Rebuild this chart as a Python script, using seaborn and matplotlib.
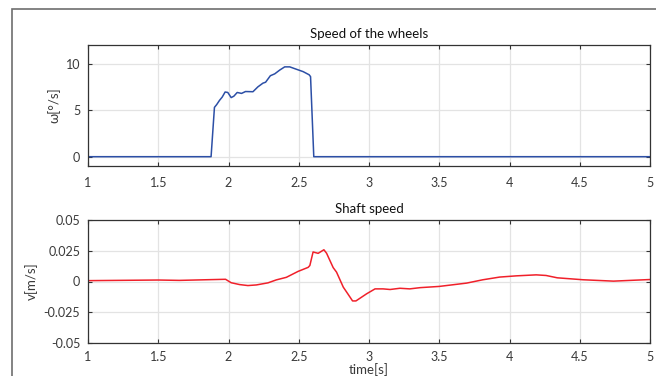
import matplotlib
matplotlib.use("Agg")
import matplotlib.pyplot as plt
import seaborn as sns
import pandas as pd
from matplotlib.patches import Rectangle

# ---- data ----
t_wheels = [1.0, 1.876, 1.9, 1.916, 1.936, 1.955, 1.976, 1.995, 2.019, 2.038, 2.062,
            2.093, 2.121, 2.174, 2.209, 2.245, 2.264, 2.298, 2.329, 2.364, 2.4, 2.436,
            2.471, 2.531, 2.574, 2.584, 2.607, 5.0]
omega = [0, 0, 5.3, 5.6, 6.05, 6.4, 6.95, 6.9, 6.35, 6.5, 6.9,
         6.8, 7.0, 6.98, 7.5, 7.9, 8.0, 8.7, 8.9, 9.3, 9.65, 9.65,
         9.46, 9.14, 8.8, 8.6, 0, 0]

t_shaft = [1.0, 1.5, 1.65, 1.979, 2.019, 2.079, 2.138, 2.198, 2.281, 2.34, 2.412,
           2.495, 2.567, 2.579, 2.602, 2.638, 2.679, 2.698, 2.745, 2.769, 2.817,
           2.852, 2.883, 2.907, 2.983, 3.043, 3.1, 3.15, 3.22, 3.29, 3.364, 3.5,
           3.695, 3.81, 3.93, 4.05, 4.19, 4.26, 4.34, 4.525, 4.74, 5.0]
v_shaft = [0.0007, 0.0012, 0.0009, 0.0018, -0.001, -0.0025, -0.0033, -0.0028, -0.0011, 0.0013, 0.0034,
           0.0082, 0.0115, 0.013, 0.024, 0.0229, 0.0258, 0.023, 0.0113, 0.0076, -0.0046,
           -0.0105, -0.0158, -0.0158, -0.010, -0.006, -0.006, -0.0065, -0.0055, -0.006, -0.005, -0.004,
           -0.0013, 0.0014, 0.0036, 0.0046, 0.0054, 0.0049, 0.003, 0.0014, 0.0003, 0.0016]

x_ticks = [1, 1.5, 2, 2.5, 3, 3.5, 4, 4.5, 5]
x_ticklabels = ["1", "1.5", "2", "2.5", "3", "3.5", "4", "4.5", "5"]
w_ticks = [0, 5, 10]
v_ticks = [-0.05, -0.025, 0, 0.025, 0.05]
v_ticklabels = ["-0.05", "-0.025", "0", "0.025", "0.05"]

sns.set_theme(style="whitegrid")
plt.rcParams['font.family'] = ['Lato', 'DejaVu Sans']

txt = '#3a3a3a'
fig = plt.figure(figsize=(6.56, 3.76), dpi=100)
fig.patches.append(Rectangle((12/656, -0.1), 2, 1 - 9/376 + 0.1, transform=fig.transFigure,
                             fill=False, edgecolor='#6e6e6e', linewidth=1.2))

ax1 = fig.add_axes([88/656, 1-166/376, 562/656, 121/376])
ax2 = fig.add_axes([88/656, 1-343/376, 562/656, 123/376])

df1 = pd.DataFrame({"t": t_wheels, "w": omega})
df2 = pd.DataFrame({"t": t_shaft, "v": v_shaft})
sns.lineplot(data=df1, x="t", y="w", ax=ax1, color='#2c4fa6', linewidth=1.1)
sns.lineplot(data=df2, x="t", y="v", ax=ax2, color='#f0202a', linewidth=1.1)

for ax in (ax1, ax2):
    ax.set_xlim(1, 5)
    ax.set_xticks(x_ticks)
    ax.set_xticklabels(x_ticklabels)
    ax.grid(True, color='#e3e3e3', linewidth=0.9)
    ax.tick_params(direction='in', length=3, width=0.8, colors='#333333',
                   labelcolor=txt, labelsize=9, top=True, right=True,
                   bottom=True, left=True)
    ax.tick_params(axis='y', pad=5.5)
    for s in ax.spines.values():
        s.set_color('#333333')
        s.set_linewidth(0.9)
    ax.set_facecolor('white')

ax1.tick_params(axis='x', pad=8)
ax2.tick_params(axis='x', pad=5.5)

ax1.set_ylim(-1, 12)
ax1.set_yticks(w_ticks)
ax1.set_xlabel("")
ax1.set_ylabel("ω[°/s]", color=txt, fontsize=9.5, labelpad=4)
ax1.set_title("Speed of the wheels", color='#111111', fontsize=9.5, pad=5)

ax2.set_ylim(-0.05, 0.05)
ax2.set_yticks(v_ticks)
ax2.set_yticklabels(v_ticklabels)
ax2.set_xlabel("time[s]", color=txt, fontsize=9.5, labelpad=0)
ax2.set_ylabel("v[m/s]", color=txt, fontsize=9.5, labelpad=4.5)
ax2.set_title("Shaft speed", color='#111111', fontsize=9.5, pad=5)

fig.savefig("out.png", dpi=100)
